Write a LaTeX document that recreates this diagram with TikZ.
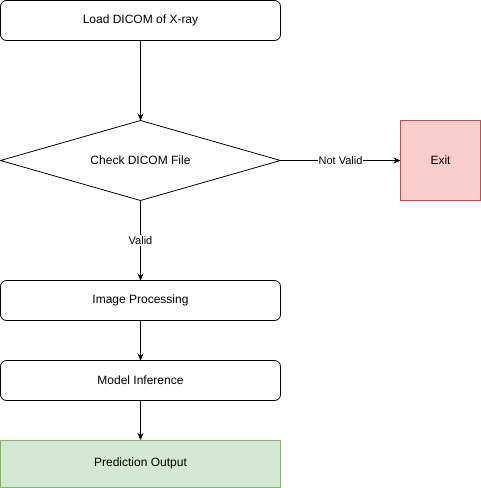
\documentclass[tikz,border=0pt]{standalone}
\usepackage{fontspec}
\setmainfont{Liberation Sans}
\usepackage{tikz}
\usetikzlibrary{shapes.geometric, positioning, arrows.meta}

\definecolor{exitfill}{HTML}{F8CECC}
\definecolor{exitline}{HTML}{B85450}
\definecolor{outfill}{HTML}{D5E8D4}
\definecolor{outline}{HTML}{82B366}

\begin{document}
\begin{tikzpicture}[x=1pt, y=-1pt, line width=0.8pt,
        every node/.style={font=\fontsize{12}{14}\selectfont, outer sep=0pt},
        stepbox/.style={rectangle, draw, rounded corners=6pt, minimum width=280pt, minimum height=40pt},
        check/.style={diamond, draw, aspect=3.5, minimum width=280pt, minimum height=80pt},
        flow/.style={-{Stealth[length=7pt, width=6pt]}},
        edgelabel/.style={fill=white, inner sep=1pt, font=\fontsize{11}{13}\selectfont}]
        \useasboundingbox (0,0) rectangle (481,488);
        % main column
        \node[stepbox] (load) at (140.5, 20.5) {Load DICOM of X-ray};
        \node[check] (check) at (140.5, 160.5) {Check DICOM File};
        \node[rectangle, draw=exitline, fill=exitfill, minimum width=80pt, minimum height=80pt] (exit) at (440.5, 160.5) {Exit};
        \node[stepbox] (proc) at (140.5, 300.5) {Image Processing};
        \node[stepbox] (infer) at (140.5, 380.5) {Model Inference};
        \node[rectangle, draw=outline, fill=outfill, minimum width=280pt, minimum height=47pt] (pred) at (140.5, 463.5) {Prediction Output};

        \draw[flow] (load) -- (check);
        \draw[flow] (check) -- node[edgelabel] {Not Valid} (exit);
        \draw[flow] (check) -- node[edgelabel] {Valid} (proc);
        \draw[flow] (proc) -- (infer);
        \draw[flow] (infer) -- (pred);
    \end{tikzpicture}
\end{document}
